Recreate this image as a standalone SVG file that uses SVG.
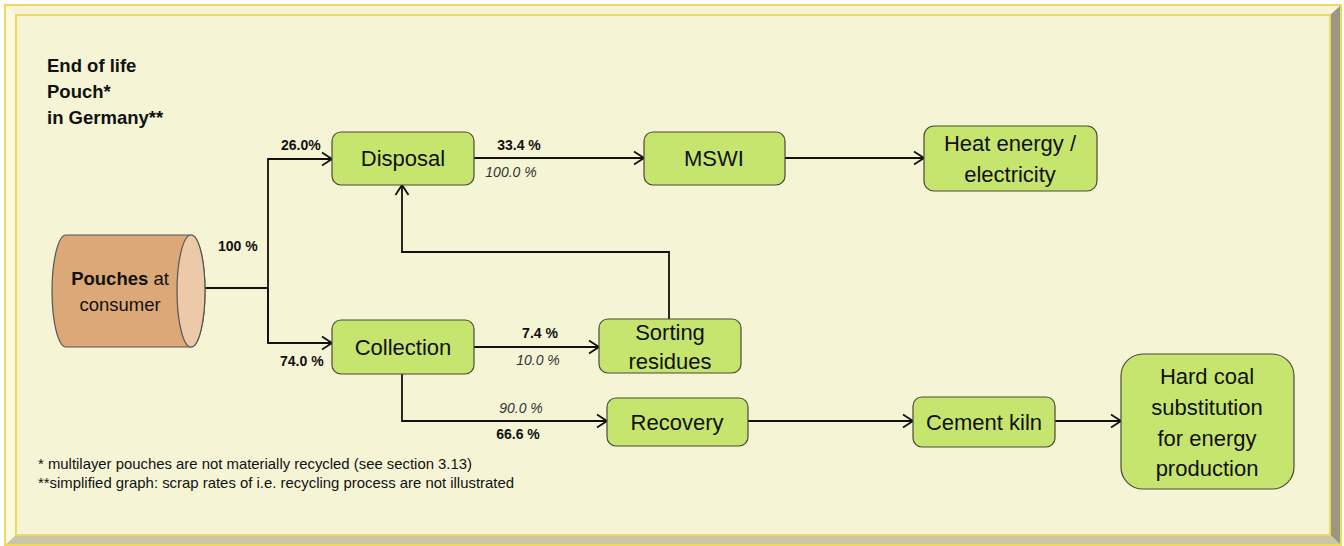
<svg xmlns="http://www.w3.org/2000/svg" width="1344" height="546" viewBox="0 0 1344 546">
  <style>
    .node { fill: #c6e56f; stroke: #4a4a3a; stroke-width: 1.2; }
    .lbl { font-family: "Liberation Sans", Arial, sans-serif; font-size: 22px; fill: #111; text-anchor: middle; }
    .src { font-family: "Liberation Sans", Arial, sans-serif; font-size: 18.5px; fill: #111; text-anchor: middle; }
    .pct { font-family: "Liberation Sans", Arial, sans-serif; font-size: 14px; fill: #111; }
    .b { font-weight: bold; }
    .i { font-style: italic; fill: #333; }
    .title { font-family: "Liberation Sans", Arial, sans-serif; font-size: 18.5px; font-weight: bold; fill: #111; }
    .note { font-family: "Liberation Sans", Arial, sans-serif; font-size: 14.5px; fill: #111; }
    .wire { fill: none; stroke: #111; stroke-width: 1.8; }
  </style>
  <defs>
    <marker id="arr" markerUnits="userSpaceOnUse" markerWidth="14" markerHeight="16" refX="12" refY="8" orient="auto">
      <path d="M2,1.5 L12,8 L2,14.5" fill="none" stroke="#111" stroke-width="1.8"/>
    </marker>
  </defs>

  <!-- bevelled frame -->
  <g id="frame">
    <rect x="0" y="0" width="1344" height="546" fill="#ffffff"/>
    <polygon points="5,5 1341,5 1330,15 16,15" fill="#f7f5d6"/>
    <polygon points="5,5 16,15 16,535 5,545" fill="#fbf9e2"/>
    <polygon points="1341,5 1341,545 1330,535 1330,15" fill="#9a9880"/>
    <polygon points="5,545 16,535 1330,535 1341,545" fill="#c8c6a8"/>
    <rect x="5" y="5" width="1336" height="540" fill="none" stroke="#f0d85c" stroke-width="2"/>
    <rect x="16" y="15" width="1314" height="520" fill="#f5f5d6" stroke="#f0d85c" stroke-width="2"/>
  </g>

  <g id="title">
    <text class="title" x="47" y="72">End of life</text>
    <text class="title" x="47" y="98">Pouch*</text>
    <text class="title" x="47" y="124">in Germany**</text>
  </g>

  <!-- connectors -->
  <g id="connectors">
    <path class="wire" d="M205,288 H268"/>
    <path class="wire" d="M268,343 V159 H332" marker-end="url(#arr)"/>
    <path class="wire" d="M268,288 V343 H332" marker-end="url(#arr)"/>
    <path class="wire" d="M474,158 H644" marker-end="url(#arr)"/>
    <path class="wire" d="M785,158 H924" marker-end="url(#arr)"/>
    <path class="wire" d="M474,347 H599" marker-end="url(#arr)"/>
    <path class="wire" d="M669,319 V252 H402 V185" marker-end="url(#arr)"/>
    <path class="wire" d="M402,374 V421 H607" marker-end="url(#arr)"/>
    <path class="wire" d="M748,421 H913" marker-end="url(#arr)"/>
    <path class="wire" d="M1055,421 H1121" marker-end="url(#arr)"/>

    <text class="pct b" x="218" y="251">100 %</text>
    <text class="pct b" x="281" y="150">26.0%</text>
    <text class="pct b" x="280" y="366">74.0 %</text>
    <text class="pct b" x="519" y="150" text-anchor="middle">33.4 %</text>
    <text class="pct i" x="511" y="177" text-anchor="middle">100.0 %</text>
    <text class="pct b" x="540" y="338" text-anchor="middle">7.4 %</text>
    <text class="pct i" x="538" y="365" text-anchor="middle">10.0 %</text>
    <text class="pct i" x="521" y="413" text-anchor="middle">90.0 %</text>
    <text class="pct b" x="518" y="439" text-anchor="middle">66.6 %</text>
  </g>

  <g id="pouches">
    <path d="M66,235 H191 A14,56 0 0 1 191,347 H66 A14,56 0 0 1 66,235 Z" fill="#dca878" stroke="#555" stroke-width="1.2"/>
    <ellipse cx="191" cy="291" rx="14" ry="56" fill="#eccaa9" stroke="#555" stroke-width="1.2"/>
    <text class="src" x="120" y="285"><tspan font-weight="bold">Pouches</tspan> at</text>
    <text class="src" x="120" y="311">consumer</text>
  </g>

  <g id="disposal">
    <rect class="node" x="332" y="132" width="142" height="53" rx="9"/>
    <text class="lbl" x="403" y="166">Disposal</text>
  </g>

  <g id="mswi">
    <rect class="node" x="644" y="132" width="141" height="53" rx="9"/>
    <text class="lbl" x="714" y="166">MSWI</text>
  </g>

  <g id="heat">
    <rect class="node" x="924" y="126" width="173" height="65" rx="10"/>
    <text class="lbl" x="1010" y="151">Heat energy /</text>
    <text class="lbl" x="1010" y="182">electricity</text>
  </g>

  <g id="collection">
    <rect class="node" x="332" y="320" width="142" height="54" rx="9"/>
    <text class="lbl" x="403" y="355">Collection</text>
  </g>

  <g id="sorting">
    <rect class="node" x="599" y="319" width="142" height="54" rx="9"/>
    <text class="lbl" x="670" y="340">Sorting</text>
    <text class="lbl" x="670" y="369">residues</text>
  </g>

  <g id="recovery">
    <rect class="node" x="607" y="398" width="141" height="48" rx="9"/>
    <text class="lbl" x="677" y="430">Recovery</text>
  </g>

  <g id="cement">
    <rect class="node" x="913" y="397" width="142" height="50" rx="9"/>
    <text class="lbl" x="984" y="430">Cement kiln</text>
  </g>

  <g id="hardcoal">
    <rect class="node" x="1121" y="354" width="173" height="135" rx="22"/>
    <text class="lbl" x="1207" y="384">Hard coal</text>
    <text class="lbl" x="1207" y="415">substitution</text>
    <text class="lbl" x="1207" y="446">for energy</text>
    <text class="lbl" x="1207" y="476">production</text>
  </g>

  <g id="notes">
    <text class="note" x="38" y="469" textLength="434" lengthAdjust="spacingAndGlyphs">* multilayer pouches are not materially recycled (see section 3.13)</text>
    <text class="note" x="38" y="488" textLength="476" lengthAdjust="spacingAndGlyphs">**simplified graph: scrap rates of  i.e. recycling process are not illustrated</text>
  </g>
</svg>
